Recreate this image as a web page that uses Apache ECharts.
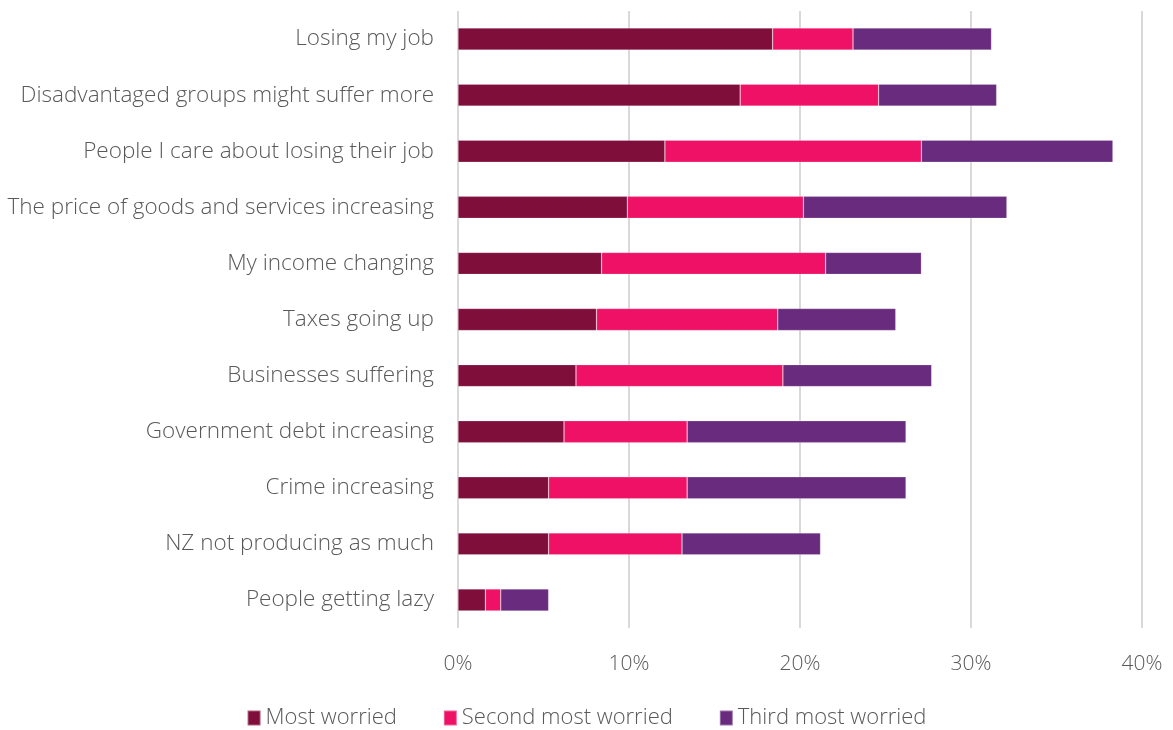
<!DOCTYPE html>
<html>
<head>
<meta charset="utf-8">
<script src="https://cdn.jsdelivr.net/npm/echarts@6/dist/echarts.min.js"></script>
<style>
  html, body { margin: 0; padding: 0; background: #fff; }
  #chart { width: 1173px; height: 730px; }
</style>
</head>
<body>
<div id="chart"></div>
<script>
// Worries, listed top to bottom
const categories = [
  'Losing my job',
  'Disadvantaged groups might suffer more',
  'People I care about losing their job',
  'The price of goods and services increasing',
  'My income changing',
  'Taxes going up',
  'Businesses suffering',
  'Government debt increasing',
  'Crime increasing',
  'NZ not producing as much',
  'People getting lazy'
];

// Share of respondents (%) for each ranking
const mostWorried   = [18.4, 16.5, 12.1, 9.9, 8.4, 8.1, 6.9, 6.2, 5.3, 5.3, 1.6];
const secondWorried = [4.7, 8.1, 15.0, 10.3, 13.1, 10.6, 12.1, 7.2, 8.1, 7.8, 0.9];
const thirdWorried  = [8.1, 6.9, 11.2, 11.9, 5.6, 6.9, 8.7, 12.8, 12.8, 8.1, 2.8];

const seriesNames = ['Most worried', 'Second most worried', 'Third most worried'];
const colors = ['#7f0e3a', '#ee1166', '#692b7e'];

const font = '"Open Sans", "Segoe UI", sans-serif';
const textColor = '#595959';

const chart = echarts.init(document.getElementById('chart'));

const makeSeries = (name, data, color) => ({
  name,
  type: 'bar',
  stack: 'total',
  data,
  barWidth: 22,
  itemStyle: { color, borderColor: 'rgba(255,255,255,0.35)', borderWidth: 0.6 },
  emphasis: { disabled: true }
});

chart.setOption({
  animation: false,
  textStyle: { fontFamily: font },
  color: colors,
  grid: { left: 458, right: 31, top: 11, bottom: 102, containLabel: false },
  legend: {
    top: 702,
    left: 'center',
    itemWidth: 13,
    itemHeight: 15,
    itemGap: 46,
    icon: 'rect',
    textStyle: { fontSize: 22, color: textColor, fontFamily: font, fontWeight: 300 },
    data: seriesNames
  },
  xAxis: {
    type: 'value',
    min: 0,
    max: 40,
    interval: 10,
    axisLine: { show: false },
    axisTick: { show: false },
    splitLine: { show: true, lineStyle: { color: '#d9d9d9', width: 2 } },
    axisLabel: {
      formatter: '{value}%',
      fontSize: 21,
      color: textColor,
      fontWeight: 300,
      margin: 26
    }
  },
  yAxis: {
    type: 'category',
    inverse: true,
    data: categories,
    axisLine: { show: false },
    axisTick: { show: false },
    axisLabel: {
      fontSize: 22.5,
      color: textColor,
      fontWeight: 300,
      margin: 24
    }
  },
  series: [
    makeSeries(seriesNames[0], mostWorried, colors[0]),
    makeSeries(seriesNames[1], secondWorried, colors[1]),
    makeSeries(seriesNames[2], thirdWorried, colors[2])
  ]
});
</script>
</body>
</html>
